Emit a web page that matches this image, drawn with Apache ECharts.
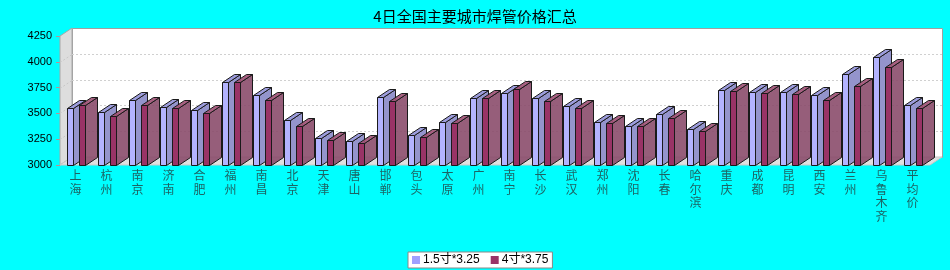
<!DOCTYPE html>
<html>
<head>
<meta charset="utf-8">
<script src="https://cdn.jsdelivr.net/npm/echarts@6/dist/echarts.min.js"></script>
<style>html,body{margin:0;padding:0;background:#00ffff;}#c{width:950px;height:270px;}</style>
</head>
<body>
<div id="c"></div>
<script>
const cities = ['上海','杭州','南京','济南','合肥','福州','南昌','北京','天津','唐山','邯郸','包头','太原','广州','南宁','长沙','武汉','郑州','沈阳','长春','哈尔滨','重庆','成都','昆明','西安','兰州','乌鲁木齐','平均价'];
const seriesNames = ['1.5寸*3.25', '4寸*3.75'];
const pipe15 = [3550,3510,3630,3560,3530,3800,3680,3440,3260,3230,3660,3290,3420,3650,3700,3650,3570,3420,3380,3490,3350,3730,3710,3710,3680,3880,4050,3580];
const pipe4 = [3580,3470,3580,3550,3500,3800,3630,3380,3240,3210,3620,3270,3410,3650,3740,3620,3550,3410,3380,3460,3330,3720,3700,3690,3630,3770,3950,3550];
const yTicks = [3000,3250,3500,3750,4000,4250];

const DX = 12, DY = 8, BW = 6;
const palettes = [
  {front:'#b3b3ff', side:'#9494cc', top:'#9c9cdc', legend:'#a0a0ff'},
  {front:'#993366', side:'rgba(136,72,104,0.88)', top:'rgba(160,82,118,0.92)', legend:'#993366'}
];

function wallsRender(params, api) {
  const cs = params.coordSys;
  const x0 = cs.x, y0 = cs.y, w = cs.width + 2, h = cs.height;
  const yb = y0 + h;
  const kids = [];
  kids.push({type:'rect', shape:{x:x0+DX+0.5, y:y0-DY+0.5, width:w, height:h}, style:{fill:'#ffffff', stroke:'#a0a0a0', lineWidth:1}});
  kids.push({type:'polygon', shape:{points:[[x0,y0],[x0+DX,y0-DY],[x0+DX,yb-DY],[x0,yb]]}, style:{fill:'#dddddd', stroke:'#a8a8a8', lineWidth:1}});
  kids.push({type:'polygon', shape:{points:[[x0,yb],[x0+DX,yb-DY],[x0+DX+w,yb-DY],[x0+w,yb]]}, style:{fill:'#e0e0e0', stroke:'#c8c8c8', lineWidth:1}});
  yTicks.forEach(function(v, k){
    if (k === 0 || k === yTicks.length-1) return;
    const yy = Math.round(api.coord([0, v])[1]) + 0.5;
    kids.push({type:'line', shape:{x1:x0, y1:yy, x2:x0+DX, y2:yy-DY}, style:{stroke:'#c8c8c8', lineWidth:1, lineDash:[2,2]}});
    kids.push({type:'line', shape:{x1:x0+DX, y1:yy-DY, x2:x0+DX+w, y2:yy-DY}, style:{stroke:'#d0d0d0', lineWidth:1, lineDash:[2,2]}});
  });
  return {type:'group', children:kids};
}

function barRender(sIdx) {
  return function(params, api) {
    const i = api.value(0), v = api.value(1);
    const c = api.coord([i, v]);
    const b = api.coord([i, yTicks[0]]);
    const x = Math.round(c[0] - 8.7 + sIdx*12) + 0.5;
    const ty = Math.round(c[1]) + 0.5;
    const by = Math.round(b[1]) + 0.5;
    const p = palettes[sIdx];
    const st = {stroke:'#1a1a1a', lineWidth:1};
    return {type:'group', children:[
      {type:'polygon', shape:{points:[[x+BW,ty],[x+BW+DX,ty-DY],[x+BW+DX,by-DY],[x+BW,by]]}, style:Object.assign({fill:p.side}, st)},
      {type:'polygon', shape:{points:[[x,ty],[x+DX,ty-DY],[x+BW+DX,ty-DY],[x+BW,ty]]}, style:Object.assign({fill:p.top}, st)},
      {type:'rect', shape:{x:x, y:ty, width:BW, height:by-ty}, style:Object.assign({fill:p.front}, st)}
    ]};
  };
}

const chart = echarts.init(document.getElementById('c'), null, {renderer:'canvas'});
chart.setOption({
  backgroundColor:'#00ffff',
  animation:false,
  title:{text:'4日全国主要城市焊管价格汇总', left:'center', top:4,
    textStyle:{fontSize:15, fontWeight:'normal', color:'#000', fontFamily:'"Noto Sans CJK SC", sans-serif'}},
  legend:{left:408, top:252, itemWidth:8, itemHeight:8, itemGap:11, padding:[2,4,2,4],
    backgroundColor:'#ffffff', borderColor:'#888888', borderWidth:1, icon:'rect',
    textStyle:{fontSize:12, color:'#000', fontFamily:'"Liberation Sans","Noto Sans CJK SC", sans-serif', padding:[0,0,0,-2]},
    data:[{name:seriesNames[0], itemStyle:{color:palettes[0].legend}}, {name:seriesNames[1], itemStyle:{color:palettes[1].legend}}]},
  grid:{left:60, top:36, width:868, height:129},
  xAxis:{type:'category', data:cities, axisLine:{show:false}, axisTick:{show:false}, splitLine:{show:false},
    axisLabel:{interval:0, margin:4, fontSize:12, lineHeight:13.5, color:'#1c6464',
      fontFamily:'"Noto Sans CJK SC", sans-serif', formatter:function(v){return v.split('').join('\n');}}},
  yAxis:{type:'value', min:yTicks[0], max:yTicks[yTicks.length-1], interval:250,
    axisLine:{show:true, lineStyle:{color:'#a0a0a0'}}, axisTick:{show:true, length:4, lineStyle:{color:'#c09090'}},
    splitLine:{show:false},
    axisLabel:{fontSize:11, color:'#000', margin:8, fontFamily:'"Liberation Sans", sans-serif',
      formatter:function(v){return String(v);}}},
  series:[
    {type:'custom', name:'walls', silent:true, renderItem:wallsRender, data:[[0, yTicks[0]]], z:1},
    {type:'custom', name:seriesNames[0], renderItem:barRender(0), data:pipe15.map(function(v,i){return [i,v];}), itemStyle:{color:palettes[0].legend}, z:2},
    {type:'custom', name:seriesNames[1], renderItem:barRender(1), data:pipe4.map(function(v,i){return [i,v];}), itemStyle:{color:palettes[1].legend}, z:3}
  ]
});
</script>
</body>
</html>
